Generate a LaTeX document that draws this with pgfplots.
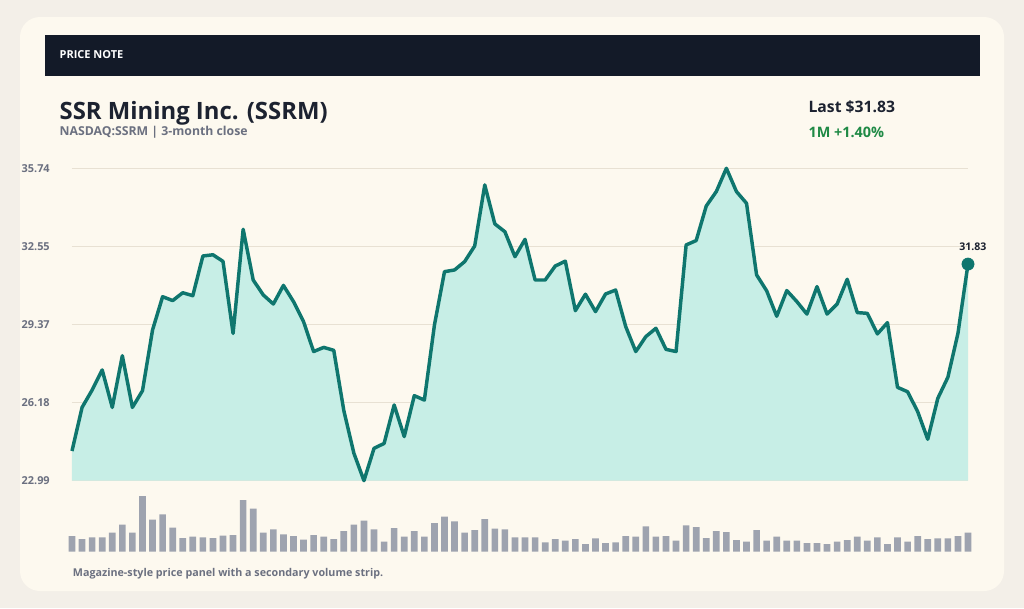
\documentclass[border=0pt]{standalone}
\usepackage{pgfplots}
\pgfplotsset{compat=1.18}
\usepackage{pgfplotstable}
\usepackage{fontspec}
\setmainfont{Open Sans}

\definecolor{pagebg}{HTML}{F3EFE8}
\definecolor{cardbg}{HTML}{FDF9EF}
\definecolor{headbg}{HTML}{131A28}
\definecolor{inkc}{HTML}{1C2230}
\definecolor{mutedc}{HTML}{6B7080}
\definecolor{linec}{HTML}{0F766E}
\definecolor{areac}{HTML}{C7EEE6}
\definecolor{gainc}{HTML}{1F8A45}
\definecolor{gridc}{HTML}{E8E1D3}
\definecolor{barc}{HTML}{9EA3AF}

% day index, close, volume (relative units)
\pgfplotstableread{
d close vol
0 24.20 4.7
1 25.98 3.8
2 26.69 4.3
3 27.51 4.3
4 25.98 5.7
5 28.09 8.1
6 25.98 5.7
7 26.66 16.7
8 29.14 9.6
9 30.50 11.2
10 30.34 7.2
11 30.66 4.1
12 30.54 4.5
13 32.16 4.3
14 32.21 4.1
15 31.94 4.8
16 29.00 5.0
17 33.25 15.5
18 31.18 12.9
19 30.57 5.7
20 30.20 6.7
21 30.96 5.2
22 30.30 4.7
23 29.48 3.6
24 28.26 5.0
25 28.43 4.5
26 28.31 3.8
27 25.85 6.2
28 24.11 8.1
29 22.99 9.3
30 24.31 6.7
31 24.51 3.0
32 26.08 7.1
33 24.79 4.5
34 26.46 6.2
35 26.28 4.5
36 29.34 8.6
37 31.52 10.5
38 31.59 9.1
39 31.93 5.7
40 32.57 6.5
41 35.06 9.8
42 33.47 6.9
43 33.15 6.7
44 32.13 4.3
45 32.84 4.3
46 31.18 4.3
47 31.18 2.8
48 31.75 3.8
49 31.95 3.3
50 29.93 3.8
51 30.60 2.3
52 29.89 4.0
53 30.61 2.6
54 30.77 2.8
55 29.28 4.7
56 28.26 4.5
57 28.87 7.6
58 29.21 4.5
59 28.35 4.7
60 28.26 3.3
61 32.61 7.9
62 32.79 7.4
63 34.20 4.1
64 34.79 6.2
65 35.74 5.9
66 34.79 3.5
67 34.31 3.0
68 31.39 6.5
69 30.74 3.3
70 29.70 4.5
71 30.75 3.3
72 30.30 3.3
73 29.79 2.6
74 30.91 2.6
75 29.79 2.3
76 30.20 3.0
77 31.21 3.5
78 29.85 4.5
79 29.82 3.3
80 28.98 4.3
81 29.44 2.3
82 26.80 4.3
83 26.62 3.0
84 25.81 4.7
85 24.68 3.8
86 26.35 4.0
87 27.21 4.0
88 29.00 4.7
89 31.83 5.7
}\pricedata

\pgfplotsset{
  pricepanel/.style={
    at={(54pt,-360.5pt)}, anchor=south west,
    scale only axis, width=672pt, height=234.3pt,
    xmin=0, xmax=89, ymin=22.99, ymax=35.74,
  },
}

\begin{document}
\begin{tikzpicture}
% page and card
\fill[pagebg] (0,0) rectangle (768pt,-456pt);
\fill[cardbg, rounded corners=15pt] (15pt,-12.75pt) rectangle (753pt,-443.25pt);
\fill[headbg] (33.75pt,-26.25pt) rectangle (735pt,-56.85pt);

\node[anchor=west, inner sep=0pt, text=white, font=\fontsize{8.25}{9}\selectfont\bfseries]
  at (44.5pt,-41.25pt) {PRICE NOTE};
\node[anchor=base west, inner sep=0pt, text=inkc, font=\fontsize{17.9}{20}\selectfont\bfseries]
  at (44.5pt,-89.25pt) {SSR Mining Inc. (SSRM)};
\node[anchor=base west, inner sep=0pt, text=mutedc, font=\fontsize{9.2}{11}\selectfont\bfseries]
  at (44.5pt,-101.8pt) {NASDAQ:SSRM | 3-month close};
\node[anchor=base west, inner sep=0pt, text=inkc, font=\fontsize{11.8}{13}\selectfont\bfseries]
  at (606.2pt,-84.2pt) {Last \$31.83};
\node[anchor=base west, inner sep=0pt, text=gainc, font=\fontsize{10.8}{12}\selectfont\bfseries]
  at (606.2pt,-103pt) {1M +1.40\%};
\node[anchor=base west, inner sep=0pt, text=mutedc, font=\fontsize{8.05}{9}\selectfont\bfseries]
  at (54.5pt,-432.5pt) {Magazine-style price panel with a secondary volume strip.};

% price panel: grid, ticks and area (clipped)
\begin{axis}[
  pricepanel,
  axis line style={draw=none},
  major tick length=0pt,
  xtick=\empty,
  ytick={22.99,26.18,29.37,32.55,35.74},
  yticklabels={22.99,26.18,29.37,32.55,35.74},
  /pgf/number format/assume math mode=true,
  ymajorgrids, grid style={gridc, line width=0.8pt},
  yticklabel style={font=\fontsize{8.2}{9}\selectfont\bfseries, text=mutedc,
    inner sep=0pt, xshift=-16.5pt},
]
\addplot[fill=areac, draw=none] table[x=d, y=close] {\pricedata} \closedcycle;
\end{axis}

% price panel: line and last-close marker (unclipped)
\begin{axis}[pricepanel, hide axis, clip=false]
\addplot[draw=linec, line width=2.6pt, line join=round] table[x=d, y=close] {\pricedata};
\addplot[only marks, mark=*, mark size=4.6pt, linec,
  point meta=explicit symbolic, nodes near coords,
  nodes near coords style={anchor=base, yshift=10pt, xshift=3.7pt, text=inkc,
    font=\fontsize{7.9}{9}\selectfont\bfseries}]
  coordinates {(89,31.83) [31.83]};
\end{axis}

% volume strip
\begin{axis}[
  at={(54pt,-413.8pt)}, anchor=south west,
  scale only axis, width=672pt, height=45pt,
  xmin=0, xmax=89, ymin=0, ymax=18,
  hide axis, clip=false,
  ybar, bar width=5pt,
]
\addplot[fill=barc, draw=none] table[x=d, y=vol] {\pricedata};
\end{axis}

\pgfresetboundingbox
\useasboundingbox (0,0) rectangle (768pt,-456pt);
\end{tikzpicture}
\end{document}
